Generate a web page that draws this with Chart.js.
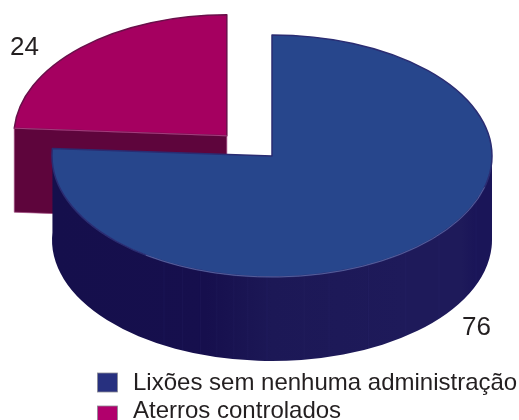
<!DOCTYPE html>
<html>
<head>
<meta charset="utf-8">
<title>Disposição de resíduos</title>
<script src="https://cdn.jsdelivr.net/npm/chart.js@4"></script>
<style>
  html, body { margin: 0; padding: 0; background: #fff; overflow: hidden; }
  #box { position: relative; width: 519px; height: 420px; }
</style>
</head>
<body>
<div id="box"><canvas id="grafico"></canvas></div>
<script>
const categorias = ["Lixões sem nenhuma administração", "Aterros controlados"];
const valores = [76, 24];

// cores de cada fatia: tampo, lateral, borda do tampo, quadradinho da legenda
const corTampo = ["#27468c", "#a50060"];
const corLateral = ["#1c1856", "#5e053c"];
const corBorda = ["#2a2c72", "#6a0f4a"];
const corLegenda = ["#27307f", "#b1006c"];

const corTexto = "#231f20";
const fonte = "'Liberation Sans', Arial, sans-serif";

// perspectiva do disco
const achatamento = 121 / 220;
const profundidade = 84;
const escalaFatia = [1, 0.968];
const deslocaY = 0.42;

// angulos das emendas da parede do disco (graus)
const emendas = [22, 40.6, 52.5, 64, 75, 81.6, 91.3, 96.3, 100, 104.5, 109, 114, 119.4];

const grau = Math.PI / 180;

function geometria(chart, i) {
  const arco = chart.getDatasetMeta(0).data[i];
  const meio = (arco.startAngle + arco.endAngle) / 2;
  const off = arco.options.offset || 0;
  const rx = arco.outerRadius * escalaFatia[i];
  return {
    x: arco.x + Math.cos(meio) * off,
    y: arco.y + Math.sin(meio) * off * deslocaY,
    rx: rx,
    ry: arco.outerRadius * achatamento,
    ini: arco.startAngle,
    fim: arco.endAngle
  };
}

function tampo(ctx, g, i) {
  ctx.beginPath();
  ctx.moveTo(g.x, g.y);
  ctx.ellipse(g.x, g.y, g.rx, g.ry, 0, g.ini, g.fim);
  ctx.closePath();
  ctx.fillStyle = corTampo[i];
  ctx.fill();
  ctx.lineJoin = "round";
  ctx.lineWidth = 1.5;
  ctx.strokeStyle = corBorda[i];
  ctx.stroke();
}

function desenhaAterro(ctx, g) {
  // parede plana do corte, a unica visivel nesta fatia
  const xi = g.x + g.rx * Math.cos(g.ini);
  const yi = g.y + g.ry * Math.sin(g.ini);
  ctx.beginPath();
  ctx.moveTo(g.x, g.y);
  ctx.lineTo(xi, yi);
  ctx.lineTo(xi, yi + profundidade);
  ctx.lineTo(g.x, g.y + profundidade);
  ctx.closePath();
  ctx.fillStyle = corLateral[1];
  ctx.fill();
  ctx.lineWidth = 0.7;
  ctx.strokeStyle = "#a04a80";
  ctx.stroke();
  tampo(ctx, g, 1);
  // fio claro no encontro do tampo com a parede
  ctx.beginPath();
  ctx.moveTo(g.x, g.y);
  ctx.lineTo(xi, yi);
  ctx.strokeStyle = "#b4488a";
  ctx.lineWidth = 0.8;
  ctx.stroke();
}

function desenhaLixoes(ctx, g) {
  const grad = ctx.createLinearGradient(g.x - g.rx, 0, g.x + g.rx, 0);
  grad.addColorStop(0, "#150f4c");
  grad.addColorStop(0.35, "#160f4d");
  grad.addColorStop(0.5, "#1c1856");
  grad.addColorStop(0.8, "#1e1a5a");
  grad.addColorStop(0.93, "#1e1a5a");
  grad.addColorStop(0.96, "#1a1558");
  grad.addColorStop(1, "#1a1558");

  ctx.beginPath();
  ctx.ellipse(g.x, g.y, g.rx, g.ry, 0, 0, g.fim);
  ctx.ellipse(g.x, g.y + profundidade, g.rx, g.ry, 0, g.fim, 0, true);
  ctx.closePath();
  ctx.fillStyle = grad;
  ctx.fill();

  ctx.lineWidth = 0.5;
  ctx.strokeStyle = "rgba(70,70,140,0.2)";
  emendas.forEach(function (a) {
    const x = g.x + g.rx * Math.cos(a * grau);
    const s = g.ry * Math.sin(a * grau);
    ctx.beginPath();
    ctx.moveTo(x, g.y + s);
    ctx.lineTo(x, g.y + s + profundidade);
    ctx.stroke();
  });

  tampo(ctx, g, 0);

  // fio claro na frente do disco
  ctx.beginPath();
  ctx.ellipse(g.x, g.y, g.rx, g.ry, 0, 15 * grau, 125 * grau);
  ctx.strokeStyle = "rgba(125,140,190,0.75)";
  ctx.lineWidth = 0.7;
  ctx.stroke();
}

const disco3d = {
  id: "disco3d",
  beforeDatasetsDraw: function (chart) {
    const ctx = chart.ctx;
    ctx.save();
    desenhaAterro(ctx, geometria(chart, 1));
    desenhaLixoes(ctx, geometria(chart, 0));
    ctx.restore();
    return false;
  },
  afterDraw: function (chart) {
    const ctx = chart.ctx;
    ctx.save();
    ctx.fillStyle = corTexto;
    ctx.textBaseline = "alphabetic";
    ctx.textAlign = "left";

    // rotulos de valor
    ctx.font = "26px " + fonte;
    ctx.fillText(String(valores[1]), 10, 55);
    ctx.fillText(String(valores[0]), 462, 335);

    // legenda
    ctx.font = "24px " + fonte;
    categorias.forEach(function (nome, i) {
      const topo = 373 + i * 33;
      ctx.fillStyle = corLegenda[i];
      ctx.fillRect(97.5, topo, 20, 19);
      ctx.strokeStyle = "#8a8a94";
      ctx.lineWidth = 0.8;
      ctx.strokeRect(97.5, topo, 20, 19);
      ctx.fillStyle = corTexto;
      ctx.fillText(nome, 133, 390 + i * 28);
    });
    ctx.restore();
  }
};

new Chart(document.getElementById("grafico"), {
  type: "pie",
  data: {
    labels: categorias,
    datasets: [{
      data: valores,
      backgroundColor: corTampo,
      borderWidth: 0,
      offset: [0, 66]
    }]
  },
  options: {
    responsive: true,
    maintainAspectRatio: false,
    animation: false,
    radius: 220,
    layout: { padding: { left: 25, bottom: 108 } },
    plugins: {
      legend: { display: false },
      tooltip: { enabled: false }
    }
  },
  plugins: [disco3d]
});
</script>
</body>
</html>
